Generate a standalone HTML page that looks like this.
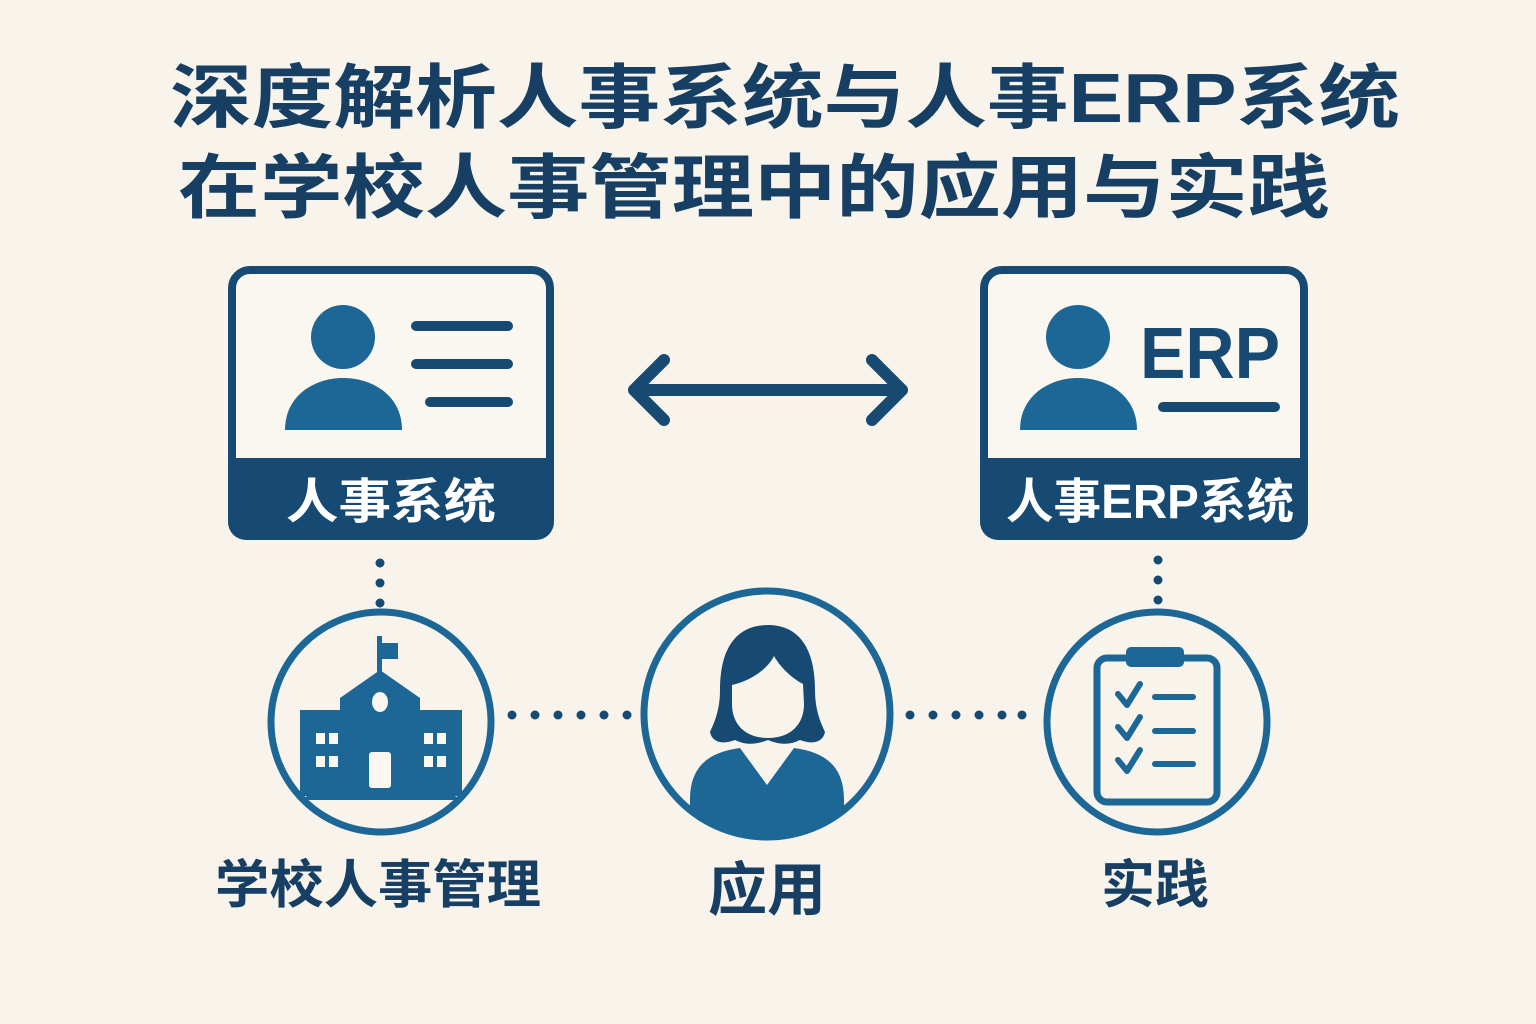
<!DOCTYPE html>
<html><head><meta charset="utf-8"><style>
html,body{margin:0;padding:0;background:#f8f4ec;}
svg{display:block;}
text{font-family:"Liberation Sans","Noto Sans CJK SC",sans-serif;}
</style></head><body>
<svg width="1536" height="1024" viewBox="0 0 1536 1024" xmlns="http://www.w3.org/2000/svg">
<defs><clipPath id="cc"><circle cx="767" cy="714" r="120"/></clipPath></defs>
<rect width="1536" height="1024" fill="#f8f4ec"/>
<g fill="#173f63" font-weight="bold" font-size="70">
<text x="170" y="122" textLength="1230" lengthAdjust="spacingAndGlyphs">深度解析人事系统与人事ERP系统</text>
<text x="178" y="212" textLength="1152" lengthAdjust="spacingAndGlyphs">在学校人事管理中的应用与实践</text>
</g>
<!-- card 1 -->
<rect x="232" y="270" width="318" height="266" rx="18" fill="#faf7f1" stroke="#174a72" stroke-width="8"/>
<path d="M228 458 H554 V522 a18 18 0 0 1 -18 18 H246 a18 18 0 0 1 -18 -18 Z" fill="#174a72"/>
<circle cx="343" cy="337" r="32" fill="#1d6797"/>
<path d="M285 430 C285 395 315 378 343 378 C372 378 402 395 402 430 Z" fill="#1d6797"/>
<g stroke="#174a72" stroke-width="10" stroke-linecap="round">
<line x1="416" y1="326" x2="508" y2="326"/><line x1="416" y1="364" x2="508" y2="364"/><line x1="430" y1="402" x2="508" y2="402"/>
</g>
<text x="391" y="518" fill="#fff" font-size="48" font-weight="bold" text-anchor="middle" textLength="210" lengthAdjust="spacingAndGlyphs">人事系统</text>
<!-- card 2 -->
<rect x="984" y="270" width="320" height="266" rx="18" fill="#faf7f1" stroke="#174a72" stroke-width="8"/>
<path d="M980 458 H1308 V522 a18 18 0 0 1 -18 18 H998 a18 18 0 0 1 -18 -18 Z" fill="#174a72"/>
<circle cx="1078" cy="337" r="32" fill="#1d6797"/>
<path d="M1020 430 C1020 395 1050 378 1078 378 C1107 378 1137 395 1137 430 Z" fill="#1d6797"/>
<text x="1140" y="378" fill="#174a72" font-size="72" font-weight="bold" textLength="140" lengthAdjust="spacingAndGlyphs">ERP</text>
<line x1="1163" y1="407" x2="1275" y2="407" stroke="#174a72" stroke-width="10" stroke-linecap="round"/>
<text x="1150" y="518" fill="#fff" font-size="48" font-weight="bold" text-anchor="middle" textLength="288" lengthAdjust="spacingAndGlyphs">人事ERP系统</text>
<!-- arrow -->
<g stroke="#174a72" stroke-width="12" stroke-linecap="round" stroke-linejoin="round" fill="none">
<line x1="636" y1="390" x2="900" y2="390"/>
<polyline points="664,360 634,390 664,420"/>
<polyline points="872,360 902,390 872,420"/>
</g>
<!-- dotted connectors -->
<g fill="#174a72">
<circle cx="380" cy="563" r="4.5"/><circle cx="380" cy="583" r="4.5"/><circle cx="380" cy="603" r="4.5"/>
<circle cx="1158" cy="560" r="4.5"/><circle cx="1158" cy="580" r="4.5"/><circle cx="1158" cy="600" r="4.5"/>
<circle cx="512" cy="715" r="4.5"/><circle cx="535" cy="715" r="4.5"/><circle cx="558" cy="715" r="4.5"/><circle cx="581" cy="715" r="4.5"/><circle cx="604" cy="715" r="4.5"/><circle cx="627" cy="715" r="4.5"/>
<circle cx="910" cy="715" r="4.5"/><circle cx="933" cy="715" r="4.5"/><circle cx="956" cy="715" r="4.5"/><circle cx="979" cy="715" r="4.5"/><circle cx="1002" cy="715" r="4.5"/><circle cx="1022" cy="715" r="4.5"/>
</g>
<!-- circles -->
<g fill="none" stroke="#1d6797" stroke-width="7">
<circle cx="381" cy="722" r="110"/>
<circle cx="767" cy="714" r="123"/>
<circle cx="1157" cy="722" r="110"/>
</g>
<!-- school -->
<g fill="#1d6797">
<rect x="377" y="636" width="5" height="42"/>
<rect x="382" y="643" width="16" height="16"/>
<path d="M340 710 V698 L380 670 L420 698 V710 Z"/>
<rect x="300" y="710" width="162" height="86"/>
<path d="M312 792 H450 L460 800 H302 Z"/>
</g>
<g fill="#faf7f1">
<ellipse cx="380" cy="702" rx="8" ry="10"/>
<rect x="316" y="733" width="9" height="11"/><rect x="329" y="733" width="9" height="11"/>
<rect x="316" y="756" width="9" height="11"/><rect x="329" y="756" width="9" height="11"/>
<rect x="424" y="733" width="9" height="11"/><rect x="437" y="733" width="9" height="11"/>
<rect x="424" y="756" width="9" height="11"/><rect x="437" y="756" width="9" height="11"/>
<rect x="369" y="752" width="22" height="36" rx="3"/>
</g>
<!-- woman -->
<path clip-path="url(#cc)" d="M690 800 C690 765 710 752 740 748 L767 785 L794 748 C824 752 844 765 844 800 L844 860 L690 860 Z" fill="#1d6797"/>
<path d="M768 625 C735 625 720 650 720 690 C720 712 713 725 710 732 C712 742 722 745 735 740 C745 745 755 745 768 740 C780 745 790 745 800 740 C813 745 823 742 825 732 C822 725 815 712 815 690 C815 650 800 625 768 625 Z" fill="#174a72"/>
<path d="M732 685 C755 680 770 665 774 656 C782 670 795 680 803 684 L804 704 C804 725 790 738 768 738 C746 738 732 725 732 704 Z" fill="#f8f4ec"/>
<!-- clipboard -->
<rect x="1097" y="658" width="120" height="144" rx="10" fill="none" stroke="#1d6797" stroke-width="7"/>
<rect x="1126" y="647" width="58" height="20" rx="5" fill="#1d6797"/>
<g stroke="#1d6797" stroke-width="6" stroke-linecap="round" stroke-linejoin="round" fill="none">
<polyline points="1118,694 1127,705 1140,684"/>
<polyline points="1118,727 1127,738 1140,717"/>
<polyline points="1118,760 1127,771 1140,750"/>
<line x1="1155" y1="697" x2="1193" y2="697"/>
<line x1="1155" y1="731" x2="1193" y2="731"/>
<line x1="1155" y1="764" x2="1193" y2="764"/>
</g>
<!-- labels -->
<g fill="#173f63" font-weight="bold" text-anchor="middle">
<text x="378" y="903" font-size="52" textLength="326" lengthAdjust="spacingAndGlyphs">学校人事管理</text>
<text x="767" y="910" font-size="58" textLength="118" lengthAdjust="spacingAndGlyphs">应用</text>
<text x="1155" y="903" font-size="52" textLength="108" lengthAdjust="spacingAndGlyphs">实践</text>
</g>
</svg>
</body></html>
